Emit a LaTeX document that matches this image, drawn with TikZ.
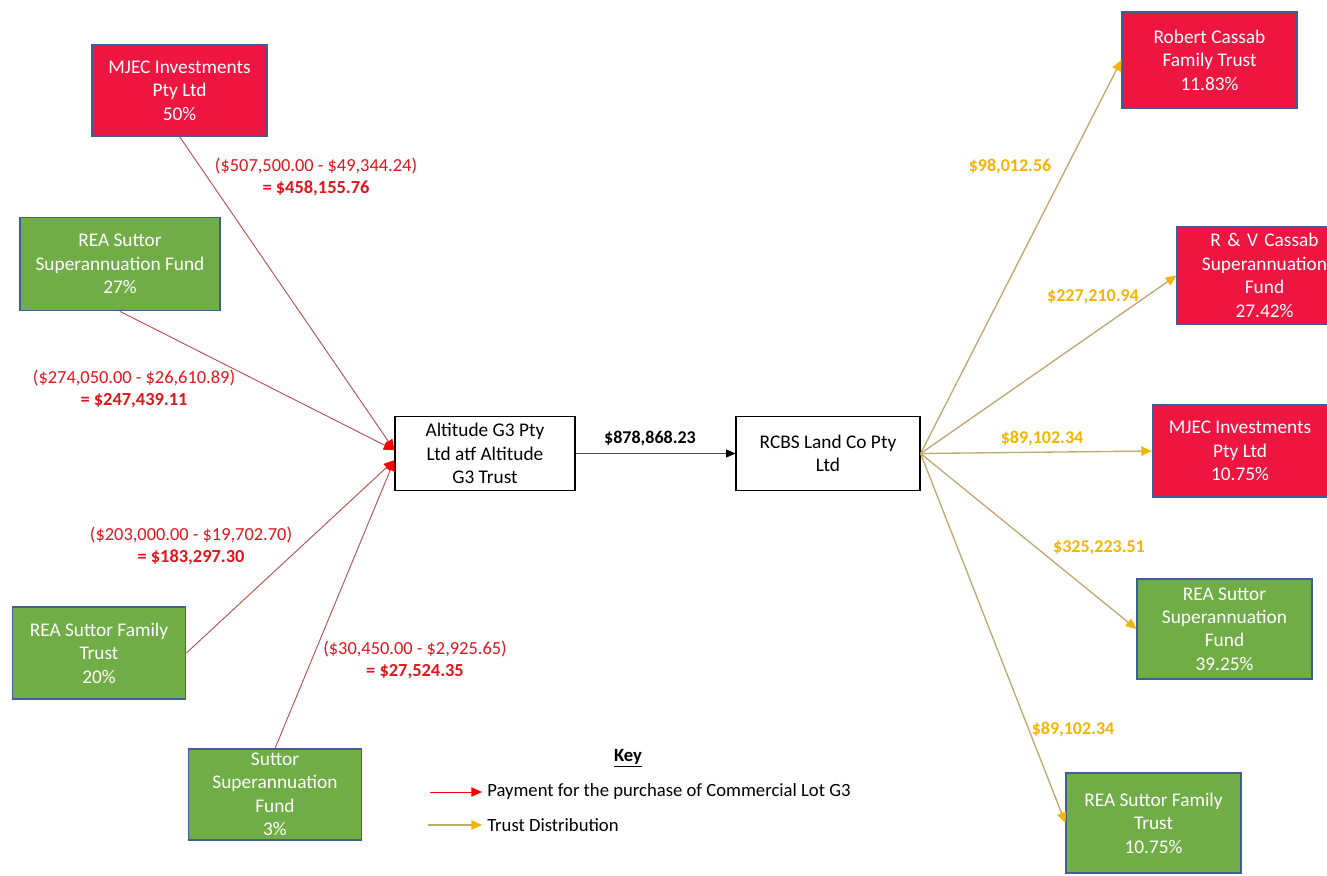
\documentclass[tikz,border=0pt]{standalone}
\usepackage{fontspec}
\setmainfont{Carlito}
\usetikzlibrary{arrows.meta}
\definecolor{boxred}{HTML}{EE1640}
\definecolor{boxgreen}{HTML}{70AD47}
\definecolor{boxedge}{HTML}{3F5F93}
\definecolor{payline}{HTML}{B5524E}
\definecolor{payred}{HTML}{E3141C}
\definecolor{distline}{HTML}{C2A76E}
\definecolor{distgold}{HTML}{F4B400}
\tikzset{
  entity/.style={draw=boxedge, line width=1.1pt, text=white, align=center,
    inner sep=1pt, font=\fontsize{14.5}{17.6}\selectfont},
  redbox/.style={entity, fill=boxred},
  greenbox/.style={entity, fill=boxgreen},
  plainbox/.style={draw=black, line width=0.9pt, fill=white, align=center,
    inner sep=1pt, font=\fontsize{14.5}{17.6}\selectfont},
  pay/.style={draw=payline, line width=0.7pt,
    -{Triangle[length=8pt, width=7pt, color=red]}},
  dist/.style={draw=distline, line width=1pt,
    -{Triangle[length=8pt, width=7pt, color=distgold]}},
  flow/.style={draw=black!70, line width=0.7pt,
    -{Triangle[length=7pt, width=6pt, color=black]}},
  paylabel/.style={text=payred, align=center, font=\fontsize{13.8}{17}\selectfont},
  distlabel/.style={text=distgold, font=\fontsize{13.5}{16}\selectfont\bfseries},
}
\begin{document}
\begin{tikzpicture}[x=0.75pt, y=-0.75pt]
\useasboundingbox (0,0) rectangle (1327,875);
% payers
\node[redbox, minimum width=131pt, minimum height=68pt] (mjecL) at (179.5,90.5)
  {MJEC Investments\\Pty Ltd\\50\%};
\node[greenbox, minimum width=150pt, minimum height=70pt] (superL) at (120,264)
  {REA Suttor\\Superannuation Fund\\27\%};
\node[greenbox, minimum width=130pt, minimum height=69pt] (familyL) at (99,653)
  {REA Suttor Family\\Trust\\20\%};
\node[greenbox, minimum width=130pt, minimum height=68pt] (suttor) at (275,794.5)
  {Suttor\\Superannuation\\Fund\\3\%};
% trusts
\node[plainbox, minimum width=135pt, minimum height=56pt] (altitude) at (485,453.5)
  {Altitude G3 Pty\\Ltd atf Altitude\\G3 Trust};
\node[plainbox, minimum width=138pt, minimum height=56pt] (rcbs) at (828,453.5)
  {RCBS Land Co Pty\\Ltd};
% beneficiaries
\node[redbox, minimum width=131pt, minimum height=72pt] (robert) at (1209.5,60)
  {Robert Cassab\\Family Trust\\11.83\%};
\node[redbox, minimum width=131pt, minimum height=73pt, text width=129pt] (rvcassab) at (1264.5,275.5)
  {R \& V Cassab\\Superannuation\\Fund\\27.42\%};
\node[redbox, minimum width=131pt, minimum height=69pt] (mjecR) at (1240,451)
  {MJEC Investments\\Pty Ltd\\10.75\%};
\node[greenbox, minimum width=131pt, minimum height=75pt] (superR) at (1224.5,629)
  {REA Suttor\\Superannuation\\Fund\\39.25\%};
\node[greenbox, minimum width=131pt, minimum height=75pt] (familyR) at (1153.5,823)
  {REA Suttor Family\\Trust\\10.75\%};
%
\draw[pay] (mjecL.south) -- ([yshift=2.5pt]altitude.west);
\draw[pay] (superL.south) -- ([yshift=2.5pt]altitude.west);
\draw[pay] (familyL.east) -- ([yshift=-5pt]altitude.west);
\draw[pay] (suttor.north) -- ([yshift=-5pt]altitude.west);
\draw[flow] (altitude.east) -- (rcbs.west);
%
\draw[dist] (rcbs.east) -- (robert.west);
\draw[dist] (rcbs.east) -- (rvcassab.west);
\draw[dist] (rcbs.east) -- (mjecR.west);
\draw[dist] (rcbs.east) -- (superR.west);
\draw[dist] (rcbs.east) -- (familyR.west);
%
\node[paylabel] (payA) at (316,177) {(\$507,500.00 - \$49,344.24)\\\textbf{= \$458,155.76}};
\node[paylabel] (payB) at (134,389) {(\$274,050.00 - \$26,610.89)\\\textbf{= \$247,439.11}};
\node[paylabel] (payC) at (191,546) {(\$203,000.00 - \$19,702.70)\\\textbf{= \$183,297.30}};
\node[paylabel] (payD) at (415,660) {(\$30,450.00 - \$2,925.65)\\\textbf{= \$27,524.35}};
\node[font=\fontsize{13.5}{16}\selectfont\bfseries] (total) at (650,438) {\$878,868.23};
%
\node[distlabel] (distA) at (1010,166) {\$98,012.56};
\node[distlabel] (distB) at (1093,297) {\$227,210.94};
\node[distlabel] (distC) at (1042,438) {\$89,102.34};
\node[distlabel] (distD) at (1099,548) {\$325,223.51};
\node[distlabel] (distE) at (1073,729) {\$89,102.34};
% key
\node[font=\fontsize{14}{16}\selectfont\bfseries] (key) at (628,758) {\underline{Key}};
\coordinate (payS) at (430,792);
\coordinate (payE) at (482,792);
\coordinate (distS) at (428,825);
\coordinate (distE) at (482,825);
\draw[pay, draw=red] (payS) -- (payE);
\draw[dist] (distS) -- (distE);
\node[anchor=west, font=\fontsize{14}{16}\selectfont, inner sep=0pt] (payT) at (487,792)
  {Payment for the purchase of Commercial Lot G3};
\node[anchor=west, font=\fontsize{14}{16}\selectfont, inner sep=0pt] (distT) at (487,825)
  {Trust Distribution};
\end{tikzpicture}
\end{document}
